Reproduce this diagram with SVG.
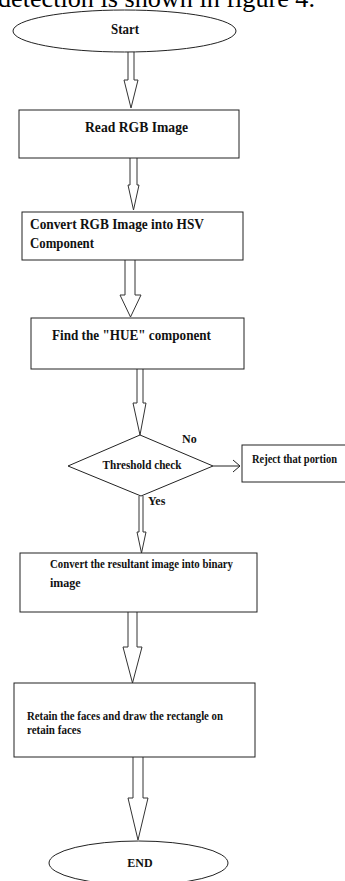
<svg xmlns="http://www.w3.org/2000/svg" width="345" height="881" viewBox="0 0 345 881">
<style>
.shape{fill:#fff;stroke:#222;stroke-width:1}
.arr{fill:#fff;stroke:#333;stroke-width:1}
.ln{fill:none;stroke:#222;stroke-width:1}
text{font-family:"Liberation Serif","Times New Roman",serif;font-weight:bold;fill:#111}
.t{font-size:15px}
.s{font-size:12px}
.m{font-size:13px}
.cap{font-weight:normal;font-size:26px;fill:#000}
</style>
<rect width="345" height="881" fill="#fff"/>
<text class="cap" x="-2" y="7" textLength="317" lengthAdjust="spacingAndGlyphs">detection is shown in figure 4.</text>
<g id="connectors">
<path class="arr" d="M128,52 L128,80 L124,80 L131,108 L138,80 L134,80 L134,52"/>
<path class="arr" d="M130,158 L130,185 L128,185 L133.5,210 L139,185 L137,185 L137,158"/>
<path class="arr" d="M125,260 L125,295 L120,295 L130.5,317 L141,295 L135,295 L135,260"/>
<path class="arr" d="M137,369 L137,403 L133,403 L140,435 L146,403 L143,403 L143,369"/>
<path class="ln" d="M213,466 L240,466 M233,460 L240,466 L233,472"/>
<text class="s" x="182" y="443">No</text>
<path class="arr" d="M139,496 L139,532 L137,532 L141.5,553 L146,532 L143,532 L143,496"/>
<text class="s" x="148" y="505">Yes</text>
<path class="arr" d="M128,612 L128,647 L123,647 L132.5,683 L142,647 L137,647 L137,612"/>
<path class="arr" d="M133,757 L133,798 L128,798 L138,840 L148,798 L143,798 L143,757"/>
</g>
<g id="start">
<ellipse class="shape" cx="124.5" cy="31" rx="111.5" ry="21"/>
<text class="t" x="125" y="34" text-anchor="middle" textLength="28" lengthAdjust="spacingAndGlyphs">Start</text>
</g>
<g id="read">
<rect class="shape" x="19" y="110" width="220" height="48"/>
<text class="t" x="85" y="132" textLength="103" lengthAdjust="spacingAndGlyphs">Read RGB Image</text>
</g>
<g id="convert">
<rect class="shape" x="22" y="212" width="221" height="48"/>
<text class="t" x="30" y="229" textLength="174" lengthAdjust="spacingAndGlyphs">Convert RGB Image into HSV</text>
<text class="t" x="30" y="248" textLength="64" lengthAdjust="spacingAndGlyphs">Component</text>
</g>
<g id="hue">
<rect class="shape" x="31" y="318" width="213" height="51"/>
<text class="t" x="52" y="340" textLength="159" lengthAdjust="spacingAndGlyphs">Find the "HUE" component</text>
</g>
<g id="threshold">
<polygon class="shape" points="140,435 213,466 141,496 68,466"/>
<text class="s" x="142" y="469" text-anchor="middle" textLength="79" lengthAdjust="spacingAndGlyphs">Threshold check</text>
</g>
<g id="reject">
<rect class="shape" x="242" y="445" width="110" height="37"/>
<text class="s" x="252" y="463" textLength="85" lengthAdjust="spacingAndGlyphs">Reject that portion</text>
</g>
<g id="binary">
<rect class="shape" x="20" y="553" width="237" height="59"/>
<text class="s" x="50" y="568" textLength="183" lengthAdjust="spacingAndGlyphs">Convert the resultant image into binary</text>
<text class="s" x="50" y="587">image</text>
</g>
<g id="retain">
<rect class="shape" x="14" y="683" width="241" height="74"/>
<text class="m" x="27" y="720" textLength="196" lengthAdjust="spacingAndGlyphs">Retain the faces and draw the rectangle on</text>
<text class="m" x="27" y="734" textLength="54" lengthAdjust="spacingAndGlyphs">retain faces</text>
</g>
<g id="end">
<ellipse class="shape" cx="138.5" cy="863" rx="89.5" ry="22"/>
<text class="s" x="140" y="867" text-anchor="middle">END</text>
</g>
</svg>
